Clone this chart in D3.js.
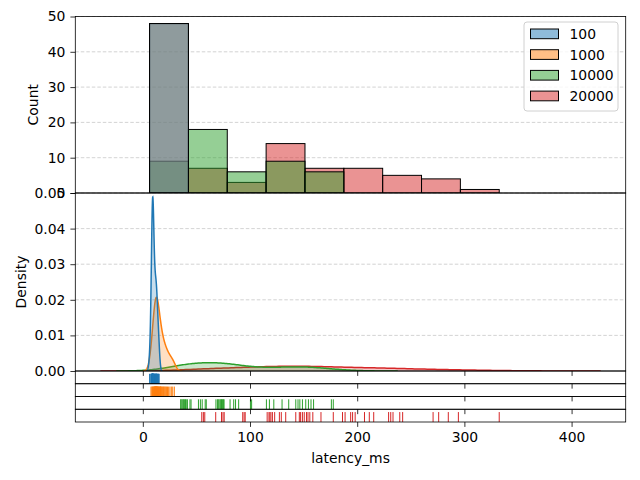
<!DOCTYPE html>
<meta charset="utf-8">
<head>
<style>
  body { margin: 0; background: #fff; }
  text { font-family: "DejaVu Sans", sans-serif; fill: #000; }
</style>
</head>
<body>
<script src="https://cdn.jsdelivr.net/npm/d3@7"></script>
<script>

// latency samples per group (ms)
var groups = ["100", "1000", "10000", "20000"];
var colors = ["#1f77b4", "#ff7f0e", "#2ca02c", "#d62728"];

var lat100 = [6.3, 7.4, 7.8, 8.0, 8.2, 8.4, 8.5, 8.6, 8.7, 8.8, 8.9, 9.0, 9.0, 9.1, 9.1, 9.2,
  9.2, 9.3, 9.4, 9.4, 9.5, 9.6, 9.7, 9.8, 9.9, 10.0, 10.2, 10.4, 10.6, 10.8, 11.0, 11.2,
  11.4, 11.6, 11.8, 12.0, 12.2, 12.4, 12.6, 12.8, 12.9, 13.0, 13.3, 13.6, 14.0, 14.4, 14.8, 15.2];
var lat1000 = [7.6, 8.4, 9.0, 9.5, 9.9, 10.3, 10.6, 10.9, 11.1, 11.3, 11.5, 11.7, 11.9, 12.0, 12.2, 12.3,
  12.5, 12.6, 12.8, 12.9, 13.1, 13.3, 13.5, 13.7, 14.0, 14.3, 14.6, 14.9, 15.3, 15.7, 16.1, 16.4,
  16.6, 17.1, 17.6, 18.2, 18.8, 19.4, 20.0, 20.7, 21.4, 22.2, 23.0, 24.1, 25.3, 26.6, 27.9, 29.4];
var lat10000 = [35.3, 35.8, 36.7, 37.5, 38.1, 39.0, 39.8, 40.5, 41.6,
  44.0, 45.0, 51.9, 53.7, 55.4, 58.2, 59.2, 68.2, 69.6, 70.3, 71.0, 72.0, 72.7, 73.4, 73.9, 74.5, 75.2, 75.8,
  81.4, 84.8, 86.5, 89.4, 100.4, 101.5,
  115.3, 118.1, 122.2, 129.9, 136.1, 142.7, 144.8, 146.5, 148.9,
  152.0, 154.5, 156.9, 159.3, 175.9, 177.7];
var lat20000 = [55.0, 56.5, 57.8, 68.0, 73.4, 74.8, 75.9,
  93.2, 94.5, 95.5,
  116.0, 117.7, 118.5, 119.5, 120.9, 123.0, 127.4, 129.2, 133.3, 142.7, 146.0, 147.2, 148.9, 150.6,
  152.7, 154.1, 155.8, 158.6, 166.2, 177.7, 186.3,
  188.7, 193.9, 195.7, 198.1, 206.8, 211.3, 215.4,
  229.3, 231.3, 233.4, 239.7, 242.4,
  270.8, 276.0, 285.0, 294.4,
  332.5];

var series = [lat100, lat1000, lat10000, lat20000];

var numBins = 9;
var countTicks = [0, 10, 20, 30, 40, 50];
var densityTicks = [0, 0.01, 0.02, 0.03, 0.04, 0.05];
var xTicks = [0, 100, 200, 300, 400];

var width = 640, height = 480;
var left = 75.3, right = 625.7;
var histTop = 16.5, histBottom = 193, kdeBottom = 371, rugBottom = 422;
var rugH = (rugBottom - kdeBottom) / 4;

var svg = d3.select("body").append("svg")
    .attr("width", width)
    .attr("height", height);

// gaussian kde, scott bandwidth, cut=3, scaled by group share (common_norm)
var total = d3.sum(series, function(s) { return s.length; });
function kde(values) {
  var n = values.length;
  var bw = d3.deviation(values) * Math.pow(n, -0.2);
  var lo = d3.min(values) - 3 * bw, hi = d3.max(values) + 3 * bw;
  var pts = [];
  for (var i = 0; i < 200; i++) {
    var xv = lo + (hi - lo) * i / 199;
    var s = 0;
    values.forEach(function(v) { var z = (xv - v) / bw; s += Math.exp(-0.5 * z * z); });
    pts.push([xv, (n / total) * s / (n * bw * Math.sqrt(2 * Math.PI))]);
  }
  return pts;
}
var curves = series.map(kde);

var allX = [].concat.apply([], curves.map(function(c) { return [c[0][0], c[c.length - 1][0]]; }));
var xlo = d3.min(allX), xhi = d3.max(allX), pad = (xhi - xlo) * 0.05;
var x = d3.scaleLinear().domain([xlo - pad, xhi + pad]).range([left, right]);
var yCount = d3.scaleLinear().domain([0, 50]).range([histBottom, histTop]);
var yDens = d3.scaleLinear().domain([0, 0.05]).range([kdeBottom, histBottom]);

// histogram bins shared across groups
var allVals = [].concat.apply([], series);
var lo = d3.min(allVals), hi = d3.max(allVals);
var edges = d3.range(1, numBins).map(function(i) { return lo + i * (hi - lo) / numBins; });
var binner = d3.bin().domain([lo, hi]).thresholds(edges);

var defs = svg.append("defs");
defs.append("clipPath").attr("id", "clipHist").append("rect")
  .attr("x", left).attr("y", histTop).attr("width", right - left).attr("height", histBottom - histTop);
defs.append("clipPath").attr("id", "clipKde").append("rect")
  .attr("x", left).attr("y", histBottom).attr("width", right - left).attr("height", kdeBottom - histBottom);

// grid lines
function grid(scale, ticks) {
  svg.append("g").selectAll("line").data(ticks.slice(1)).join("line")
    .attr("x1", left).attr("x2", right)
    .attr("y1", function(d) { return scale(d); })
    .attr("y2", function(d) { return scale(d); })
    .attr("stroke", "#c8c8c8").attr("stroke-width", 0.8)
    .attr("stroke-dasharray", "3.5,2");
}
grid(yCount, countTicks);
grid(yDens, densityTicks);

// histogram, last group drawn first
var hg = svg.append("g").attr("clip-path", "url(#clipHist)");
for (var k = series.length - 1; k >= 0; k--) {
  var bins = binner(series[k]).filter(function(b) { return b.length > 0; });
  hg.append("g").selectAll("rect").data(bins).join("rect")
    .attr("x", function(b) { return x(b.x0); })
    .attr("width", function(b) { return x(b.x1) - x(b.x0); })
    .attr("y", function(b) { return yCount(b.length); })
    .attr("height", function(b) { return yCount(0) - yCount(b.length); })
    .attr("fill", colors[k]).attr("fill-opacity", 0.5)
    .attr("stroke", "#000").attr("stroke-width", 1);
}

// kde curves
var kg = svg.append("g").attr("clip-path", "url(#clipKde)");
var area = d3.area().x(function(p) { return x(p[0]); }).y0(yDens(0)).y1(function(p) { return yDens(p[1]); });
var line = d3.line().x(function(p) { return x(p[0]); }).y(function(p) { return yDens(p[1]); });
for (var k = series.length - 1; k >= 0; k--) {
  kg.append("path").datum(curves[k]).attr("d", area)
    .attr("fill", colors[k]).attr("fill-opacity", 0.25);
  kg.append("path").datum(curves[k]).attr("d", line)
    .attr("fill", "none").attr("stroke", colors[k]).attr("stroke-width", 1.5);
}

// rug strips
series.forEach(function(vals, k) {
  var top = kdeBottom + k * rugH, bot = top + rugH;
  svg.append("g").selectAll("line").data(vals).join("line")
    .attr("x1", function(v) { return x(v); }).attr("x2", function(v) { return x(v); })
    .attr("y1", bot).attr("y2", bot - rugH * 0.78)
    .attr("stroke", colors[k]).attr("stroke-width", 1);
});

// axes
function styleAxis(g) {
  g.select(".domain").remove();
  g.selectAll(".tick line").attr("stroke", "#000").attr("stroke-width", 0.8);
  g.selectAll(".tick text").attr("font-size", "13.9px").attr("font-family", "DejaVu Sans");
}
svg.append("g").attr("transform", "translate(" + left + ",0)")
  .call(d3.axisLeft(yCount).tickValues(countTicks).tickSize(4.9).tickPadding(5))
  .call(styleAxis);
svg.append("g").attr("transform", "translate(" + left + ",0)")
  .call(d3.axisLeft(yDens).tickValues(densityTicks).tickFormat(d3.format(".2f")).tickSize(4.9).tickPadding(5))
  .call(styleAxis);

var bottoms = [kdeBottom];
for (var k = 1; k <= 4; k++) bottoms.push(kdeBottom + k * rugH);
bottoms.forEach(function(b, i) {
  var ax = d3.axisBottom(x).tickValues(xTicks).tickSize(4.9).tickPadding(5);
  if (i < bottoms.length - 1) ax.tickFormat("");
  svg.append("g").attr("transform", "translate(0," + b + ")").call(ax).call(styleAxis);
});

// spines
var boxes = [[histTop, histBottom], [histBottom, kdeBottom]];
for (var k = 0; k < 4; k++) boxes.push([kdeBottom + k * rugH, kdeBottom + (k + 1) * rugH]);
svg.append("g").selectAll("rect").data(boxes).join("rect")
  .attr("x", left).attr("y", function(b) { return b[0]; })
  .attr("width", right - left).attr("height", function(b) { return b[1] - b[0]; })
  .attr("fill", "none").attr("stroke", "#000").attr("stroke-width", 0.8);

// axis labels
svg.append("text").attr("transform", "translate(38," + ((histTop + histBottom) / 2) + ") rotate(-90)")
  .attr("text-anchor", "middle").attr("font-size", "13.9px").text("Count");
svg.append("text").attr("transform", "translate(26," + ((histBottom + kdeBottom) / 2) + ") rotate(-90)")
  .attr("text-anchor", "middle").attr("font-size", "13.9px").text("Density");
svg.append("text").attr("x", (left + right) / 2).attr("y", 463)
  .attr("text-anchor", "middle").attr("font-size", "13.9px").text("latency_ms");

// legend
var lg = svg.append("g");
lg.append("rect").attr("x", 524).attr("y", 22).attr("width", 94).attr("height", 89)
  .attr("rx", 3).attr("fill", "#fff").attr("fill-opacity", 0.8)
  .attr("stroke", "#d0d0d0").attr("stroke-width", 1);
groups.forEach(function(g, i) {
  var cy = 34 + i * 20.7;
  lg.append("rect").attr("x", 530.5).attr("y", cy - 5).attr("width", 28).attr("height", 9.7)
    .attr("fill", colors[i]).attr("fill-opacity", 0.5).attr("stroke", "#000").attr("stroke-width", 1);
  lg.append("text").attr("x", 569.5).attr("y", cy + 5).attr("font-size", "13.9px").text(g);
});

</script>
</body>
